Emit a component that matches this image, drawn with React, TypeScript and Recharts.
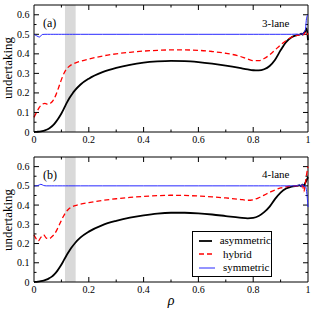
import { LineChart, Line, XAxis, YAxis, ReferenceArea, ReferenceLine, Legend } from "recharts"

const FONT = '"Liberation Serif", "Times New Roman", serif'

// axis ticks (inner ones only get drawn as marks; 0 and 1 sit on the frame)
const xTicks = [0.1, 0.2, 0.3, 0.4, 0.5, 0.6, 0.7, 0.8, 0.9]
const yTicks = [0.05, 0.1, 0.15, 0.2, 0.25, 0.3, 0.35, 0.4, 0.45, 0.5, 0.55, 0.6]
const xLabels = [0, 0.2, 0.4, 0.6, 0.8, 1]
const yLabels = [0, 0.1, 0.2, 0.3, 0.4, 0.5, 0.6]
const yMax = 0.65

// shaded band
const bandFrom = 0.113
const bandTo = 0.152

// panel (a) 3-lane
const rhoA = [0, 0.01, 0.02, 0.03, 0.04, 0.05, 0.06, 0.07, 0.08, 0.09, 0.1, 0.11, 0.12, 0.13, 0.14, 0.15, 0.17, 0.2, 0.25, 0.3, 0.35, 0.4, 0.45, 0.5, 0.55, 0.6, 0.65, 0.7, 0.75, 0.78, 0.8, 0.82, 0.84, 0.86, 0.88, 0.9, 0.92, 0.94, 0.96, 0.97, 0.975, 0.98, 0.985, 0.99, 0.995, 1]
const asymA = [0, 0.001, 0.002, 0.004, 0.008, 0.014, 0.023, 0.035, 0.052, 0.072, 0.095, 0.122, 0.15, 0.175, 0.196, 0.214, 0.243, 0.273, 0.306, 0.328, 0.344, 0.355, 0.361, 0.364, 0.363, 0.358, 0.35, 0.34, 0.328, 0.32, 0.316, 0.315, 0.321, 0.338, 0.37, 0.418, 0.46, 0.485, 0.496, 0.499, 0.503, 0.498, 0.507, 0.515, 0.53, 0.47]
const hybA = [0.075, 0.102, 0.127, 0.142, 0.146, 0.142, 0.147, 0.162, 0.19, 0.228, 0.268, 0.302, 0.324, 0.338, 0.347, 0.353, 0.362, 0.373, 0.389, 0.4, 0.408, 0.414, 0.418, 0.42, 0.42, 0.418, 0.412, 0.403, 0.388, 0.373, 0.365, 0.365, 0.376, 0.395, 0.42, 0.446, 0.468, 0.485, 0.495, 0.498, 0.5, 0.505, 0.498, 0.51, 0.495, 0.505]
const symA = [0.5, 0.492, 0.486, 0.499, 0.5, 0.5, 0.5, 0.5, 0.5, 0.5, 0.5, 0.5, 0.5, 0.5, 0.5, 0.5, 0.5, 0.5, 0.5, 0.5, 0.5, 0.5, 0.5, 0.5, 0.5, 0.5, 0.5, 0.5, 0.5, 0.5, 0.5, 0.5, 0.5, 0.5, 0.5, 0.5, 0.5, 0.5, 0.501, 0.499, 0.504, 0.498, 0.51, 0.52, 0.585, 0.6]

// panel (b) 4-lane
const rhoB = [0, 0.005, 0.015, 0.025, 0.035, 0.045, 0.055, 0.065, 0.075, 0.085, 0.095, 0.105, 0.115, 0.125, 0.135, 0.15, 0.17, 0.2, 0.25, 0.3, 0.35, 0.4, 0.45, 0.5, 0.55, 0.6, 0.65, 0.7, 0.75, 0.78, 0.8, 0.82, 0.84, 0.86, 0.88, 0.9, 0.92, 0.94, 0.96, 0.97, 0.975, 0.98, 0.985, 0.99, 0.995, 1]
const asymB = [0, 0.0005, 0.002, 0.004, 0.007, 0.012, 0.019, 0.028, 0.041, 0.058, 0.079, 0.103, 0.129, 0.153, 0.175, 0.203, 0.232, 0.262, 0.296, 0.318, 0.335, 0.347, 0.356, 0.36, 0.36, 0.357, 0.351, 0.343, 0.335, 0.331, 0.333, 0.343, 0.363, 0.392, 0.432, 0.465, 0.486, 0.496, 0.5, 0.502, 0.498, 0.506, 0.5, 0.515, 0.53, 0.545]
const hybB = [0.245, 0.232, 0.213, 0.232, 0.245, 0.228, 0.225, 0.235, 0.25, 0.275, 0.305, 0.335, 0.36, 0.377, 0.388, 0.397, 0.405, 0.413, 0.424, 0.433, 0.44, 0.445, 0.449, 0.451, 0.45, 0.447, 0.443, 0.437, 0.43, 0.425, 0.428, 0.438, 0.452, 0.466, 0.479, 0.489, 0.495, 0.499, 0.5, 0.502, 0.499, 0.503, 0.47, 0.51, 0.56, 0.6]
const symB = [0.5, 0.5, 0.502, 0.508, 0.502, 0.5, 0.5, 0.5, 0.5, 0.5, 0.5, 0.5, 0.5, 0.5, 0.5, 0.5, 0.5, 0.5, 0.5, 0.5, 0.5, 0.5, 0.5, 0.5, 0.5, 0.5, 0.5, 0.5, 0.5, 0.5, 0.5, 0.5, 0.5, 0.5, 0.5, 0.5, 0.5, 0.5, 0.5, 0.506, 0.495, 0.51, 0.497, 0.5, 0.47, 0.39]

const dataA = rhoA.map((rho, i) => ({ rho, asym: asymA[i], hyb: hybA[i], sym: symA[i] }))
const dataB = rhoB.map((rho, i) => ({ rho, asym: asymB[i], hyb: hybB[i], sym: symB[i] }))

const series = [
  { key: "asym", name: "asymmetric", color: "#000000", width: 1.8, dash: undefined as string | undefined },
  { key: "hyb", name: "hybrid", color: "#ff0000", width: 1.3, dash: "5 3" },
  { key: "sym", name: "symmetric", color: "#2828ff", width: 1, dash: undefined as string | undefined },
]

const PLOT_LEFT = 34
const PLOT_RIGHT = 308
const PLOT_W = PLOT_RIGHT - PLOT_LEFT

const isMajorX = (v: number) => Math.round(v * 10) % 2 === 0
const isMajorY = (v: number) => Math.round(v * 100) % 10 === 0
const fmt = (v: number) => (v === 0 ? "0" : v === 1 ? "1" : v.toFixed(1))

function LegendBox() {
  return (
    <div
      style={{
        width: 80,
        height: 46,
        boxSizing: "border-box",
        border: "1px solid #000",
        background: "#fff",
        paddingTop: 2,
        fontFamily: FONT,
        fontSize: 11,
      }}
    >
      {series.map((s) => (
        <div key={s.key} style={{ display: "flex", alignItems: "center", height: 13.5 }}>
          <svg width={16} height={6} style={{ marginLeft: 6, marginRight: 8 }}>
            <line x1={0} y1={3} x2={16} y2={3} stroke={s.color} strokeWidth={s.width} strokeDasharray={s.dash} />
          </svg>
          <span style={{ lineHeight: "13.5px", color: "#000", fontFamily: FONT }}>{s.name}</span>
        </div>
      ))}
    </div>
  )
}

function Panel({ data, height, marginTop, bottomHeight, legend }: any) {
  const plotH = height - marginTop - bottomHeight
  // inward tick lengths converted to data units
  const yPerPx = yMax / plotH
  const xPerPx = 1 / PLOT_W
  const tickStyle = { fontSize: 10, fill: "#000", fontFamily: FONT }
  return (
    <LineChart width={312} height={height} data={data}
      margin={{ top: marginTop, right: 312 - PLOT_RIGHT, bottom: 0, left: 0 }}>
      <XAxis dataKey="rho" type="number" domain={[0, 1]} ticks={xLabels} interval={0}
        height={bottomHeight} tickSize={0} tickMargin={4} tickLine={false}
        axisLine={{ stroke: "#000" }} tick={tickStyle} tickFormatter={fmt} />
      <YAxis type="number" domain={[0, yMax]} ticks={yLabels} interval={0}
        width={PLOT_LEFT} tickSize={0} tickMargin={4.5} tickLine={false}
        axisLine={{ stroke: "#000" }} tick={tickStyle} tickFormatter={fmt} />
      <ReferenceArea x1={bandFrom} x2={bandTo} y1={0} y2={yMax}
        fill="#d9d9d9" fillOpacity={1} stroke="none" />
      <ReferenceLine y={yMax} stroke="#000" />
      <ReferenceLine x={1} stroke="#000" />
      {xTicks.map((v) => {
        const len = (isMajorX(v) ? 5 : 2.5) * yPerPx
        return [
          <ReferenceLine key={`xb${v}`} stroke="#000"
            segment={[{ x: v, y: 0 }, { x: v, y: len }]} />,
          <ReferenceLine key={`xt${v}`} stroke="#000"
            segment={[{ x: v, y: yMax }, { x: v, y: yMax - len }]} />,
        ]
      })}
      {yTicks.map((v) => {
        const len = (isMajorY(v) ? 5 : 2.5) * xPerPx
        return [
          <ReferenceLine key={`yl${v}`} stroke="#000"
            segment={[{ x: 0, y: v }, { x: len, y: v }]} />,
          <ReferenceLine key={`yr${v}`} stroke="#000"
            segment={[{ x: 1, y: v }, { x: 1 - len, y: v }]} />,
        ]
      })}
      {series.map((s) => (
        <Line key={s.key} type="monotone" dataKey={s.key}
          stroke={s.color} strokeWidth={s.width} strokeDasharray={s.dash}
          dot={false} activeDot={false} isAnimationActive={false} />
      ))}
      {legend ? (
        <Legend layout="vertical" align="center" verticalAlign="middle"
          wrapperStyle={{ left: 192, top: 81, width: 80, height: 46 }}
          content={() => <LegendBox />} />
      ) : null}
    </LineChart>
  )
}

export default function App() {
  return (
    <div style={{ position: "absolute", left: 0, top: 0, width: 312, height: 310, background: "#fff", overflow: "hidden", fontFamily: FONT }}>
      <div style={{ position: "absolute", left: 0, top: 0 }}>
        <Panel data={dataA} height={150} marginTop={5} bottomHeight={18} legend={false} />
      </div>
      <div style={{ position: "absolute", left: 0, top: 150 }}>
        <Panel data={dataB} height={160} marginTop={7} bottomHeight={28} legend={true} />
      </div>
      <svg width={312} height={310} style={{ position: "absolute", left: 0, top: 0, pointerEvents: "none" }}>
        <g style={{ fontFamily: FONT }} fill="#000">
          <text x={43} y={27} fontSize={12}>(a)</text>
          <text x={43} y={178.5} fontSize={12}>(b)</text>
          <text x={262} y={26.5} fontSize={11}>3-lane</text>
          <text x={262} y={178.3} fontSize={11}>4-lane</text>
          <text transform="translate(11.5,68) rotate(-90)" textAnchor="middle" fontSize={13}>undertaking</text>
          <text transform="translate(11.5,220) rotate(-90)" textAnchor="middle" fontSize={13}>undertaking</text>
          <text x={171} y={304.5} textAnchor="middle" fontSize={14} fontStyle="italic">ρ</text>
        </g>
      </svg>
    </div>
  )
}
